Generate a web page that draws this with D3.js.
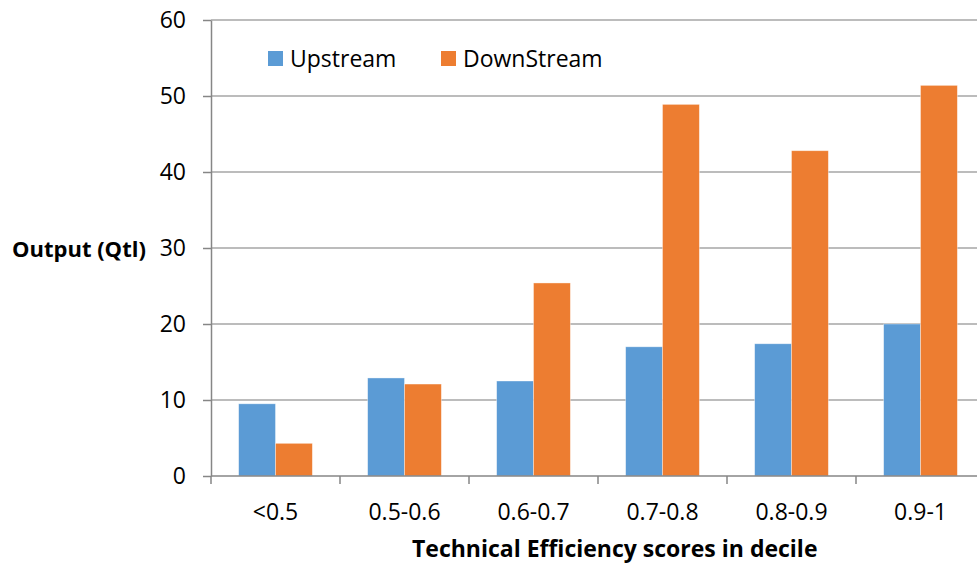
<!DOCTYPE html>
<html>
<head>
<meta charset="utf-8">
<script src="https://cdn.jsdelivr.net/npm/d3@7"></script>
<style>
  body { margin: 0; background: #fff; }
  svg { display: block; font-family: "Open Sans", sans-serif; }
</style>
</head>
<body>
<div id="chart"></div>
<script>
// data
const categories = ["<0.5", "0.5-0.6", "0.6-0.7", "0.7-0.8", "0.8-0.9", "0.9-1"];
const seriesNames = ["Upstream", "DownStream"];
const upstream = [9.5, 12.9, 12.5, 17.0, 17.4, 20.0];
const downstream = [4.3, 12.1, 25.4, 48.9, 42.8, 51.4];
const yTicks = [0, 10, 20, 30, 40, 50, 60];
const colors = ["#5b9bd5", "#ed7d31"];

const width = 977, height = 565;
const margin = { top: 20, right: 0, bottom: 89, left: 211 };
const plotH = height - margin.top - margin.bottom; // 456
const bandW = 129;

const svg = d3.select("#chart").append("svg")
  .attr("width", width)
  .attr("height", height);

const g = svg.append("g")
  .attr("transform", "translate(" + margin.left + "," + margin.top + ")");

const y = d3.scaleLinear().domain([0, 60]).range([plotH, 0]);
const x = d3.scaleBand()
  .domain(categories)
  .range([0, bandW * categories.length])
  .paddingInner(0).paddingOuter(0);
// gap width 150% -> two bars take 1/(2+1.5) each
const xs = d3.scaleBand()
  .domain(seriesNames)
  .range([0, x.bandwidth()])
  .paddingInner(0)
  .paddingOuter(0.75);

/* gridlines */
g.append("g")
  .selectAll("line")
  .data(yTicks.filter((d) => d > 0))
  .enter()
  .append("line")
  .attr("x1", 0)
  .attr("x2", width - margin.left)
  .attr("y1", (d) => y(d))
  .attr("y2", (d) => y(d))
  .attr("stroke", "#a6a6a6")
  .attr("stroke-width", 1.5);

/* bars */
const rows = categories.map((c, i) => ({ cat: c, vals: [upstream[i], downstream[i]] }));
const groups = g.selectAll(".grp")
  .data(rows)
  .enter()
  .append("g")
  .attr("transform", (d) => "translate(" + x(d.cat) + ",0)");

groups.selectAll("rect")
  .data((d) => d.vals.map((v, j) => ({ name: seriesNames[j], v: v, j: j })))
  .enter()
  .append("rect")
  .attr("x", (d) => xs(d.name))
  .attr("width", xs.bandwidth())
  .attr("y", (d) => y(d.v))
  .attr("height", (d) => plotH - y(d.v))
  .attr("fill", (d) => colors[d.j])
  .attr("stroke", "#ffffff")
  .attr("stroke-opacity", 0.5)
  .attr("stroke-width", 0.75);

/* y axis */
const yAxis = g.append("g")
  .call(d3.axisLeft(y).tickValues(yTicks).tickSize(8).tickPadding(17).tickSizeOuter(0))
  .attr("font-family", null);
yAxis.select(".domain").attr("stroke", "#868686").attr("stroke-width", 1.5);
yAxis.selectAll("line").attr("stroke", "#868686").attr("stroke-width", 1.5);
yAxis.selectAll("text")
  .style("font-family", "'Open Sans', sans-serif")
  .style("font-size", "23px")
  .attr("fill", "#000");

/* x axis */
const xAxisG = g.append("g").attr("transform", "translate(0," + plotH + ")");
xAxisG.append("line")
  .attr("x1", 0).attr("x2", width - margin.left)
  .attr("y1", 0).attr("y2", 0)
  .attr("stroke", "#868686").attr("stroke-width", 1.5);
xAxisG.selectAll(".xtick")
  .data(d3.range(categories.length + 1))
  .enter()
  .append("line")
  .attr("x1", (i) => i * bandW)
  .attr("x2", (i) => i * bandW)
  .attr("y1", 0).attr("y2", 8)
  .attr("stroke", "#868686").attr("stroke-width", 1.5);
xAxisG.selectAll(".xlab")
  .data(categories)
  .enter()
  .append("text")
  .attr("x", (d) => x(d) + x.bandwidth() / 2)
  .attr("y", 37)
  .attr("dy", "0.32em")
  .attr("text-anchor", "middle")
  .style("font-size", "23px")
  .text((d) => d);

/* axis titles */
svg.append("text")
  .attr("x", 412)
  .attr("y", 549)
  .attr("dy", "0.35em")
  .style("font-size", "23px")
  .style("font-weight", "bold")
  .text("Technical Efficiency scores in decile");

svg.append("text")
  .attr("x", 12)
  .attr("y", 249)
  .attr("dy", "0.35em")
  .style("font-size", "22px")
  .style("font-weight", "bold")
  .text("Output (Qtl)");

/* legend */
const legendX = [268, 441];
const legend = svg.selectAll(".leg")
  .data(seriesNames)
  .enter()
  .append("g")
  .attr("transform", (d, i) => "translate(" + legendX[i] + ",51)");
legend.append("rect")
  .attr("width", 15).attr("height", 15)
  .attr("fill", (d, i) => colors[i]);
legend.append("text")
  .attr("x", 22)
  .attr("y", 7.5)
  .attr("dy", "0.35em")
  .style("font-size", "23px")
  .text((d) => d);
</script>
</body>
</html>
